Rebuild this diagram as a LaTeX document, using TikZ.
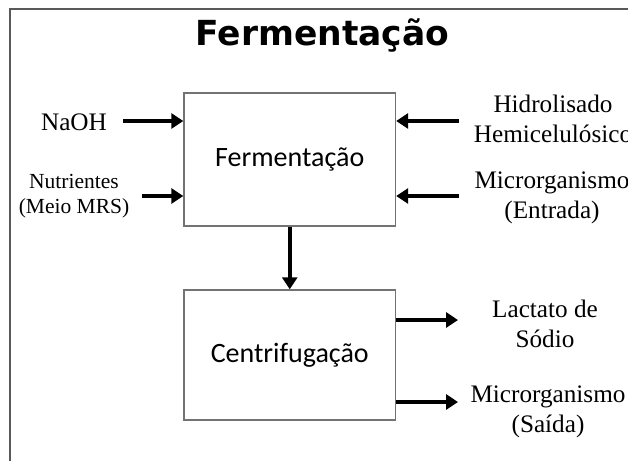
\documentclass[tikz,border=0pt]{standalone}
\usepackage{fontspec}
\setmainfont{Liberation Serif}
\newfontfamily\titlefont{DejaVu Sans}
\newfontfamily\boxfont{Carlito}
\usetikzlibrary{arrows.meta}
\begin{document}
\begin{tikzpicture}[x=1pt,y=-1pt,
  frameline/.style={draw=black!65, line width=2pt},
  procbox/.style={draw=black!55, line width=1.4pt, fill=white, rectangle, inner sep=0pt,
    minimum width=211.5pt, font=\boxfont\fontsize{28}{33}\selectfont},
  lbl/.style={align=center, inner sep=0pt, font=\fontsize{25.2}{30.5}\selectfont},
  lblsmall/.style={align=center, inner sep=0pt, font=\fontsize{21.5}{24.5}\selectfont},
  arr/.style={line width=4.5pt, -{Triangle[length=12pt,width=15pt]}, shorten >=0pt}
]
\useasboundingbox (0,0) rectangle (628,461);
\fill[white] (0,0) rectangle (628,461);
\draw[frameline] (10,461) -- (10,9) -- (628,9);

\node[anchor=base, inner sep=0pt, font=\titlefont\bfseries\fontsize{34.5}{40}\selectfont] (title) at (322.5,45) {Fermentação};

\node[procbox, minimum height=133pt] (ferm) at (289.75,159.5) {Fermentação};
\node[procbox, minimum height=130pt] (cent) at (289.75,355) {Centrifugação};

\node[lbl] (naoh) at (74,122) {NaOH};
\node[lblsmall] (nutr) at (74,196) {Nutrientes\\(Meio MRS)};
\node[lbl] (hidro) at (553,119) {Hidrolisado\\Hemicelulósico};
\node[lbl] (microin) at (552,198) {Microrganismo\\(Entrada)};
\node[lbl] (lact) at (545,324) {Lactato de\\Sódio};
\node[lbl] (microout) at (548,412) {Microrganismo\\(Saída)};

\coordinate (naohT) at (123,121);
\coordinate (nutrT) at (142,196);
\coordinate (hidroT) at (459,121);
\coordinate (microinT) at (459,196);
\coordinate (lactH) at (458,320);
\coordinate (microoutH) at (458,402);

\draw[arr] (naohT) -- (ferm.west |- naohT);
\draw[arr] (nutrT) -- (ferm.west |- nutrT);
\draw[arr] (hidroT) -- (ferm.east |- hidroT);
\draw[arr] (microinT) -- (ferm.east |- microinT);
\draw[arr] (ferm.south) -- (cent.north);
\draw[arr] (cent.east |- lactH) -- (lactH);
\draw[arr] (cent.east |- microoutH) -- (microoutH);
\end{tikzpicture}
\end{document}
